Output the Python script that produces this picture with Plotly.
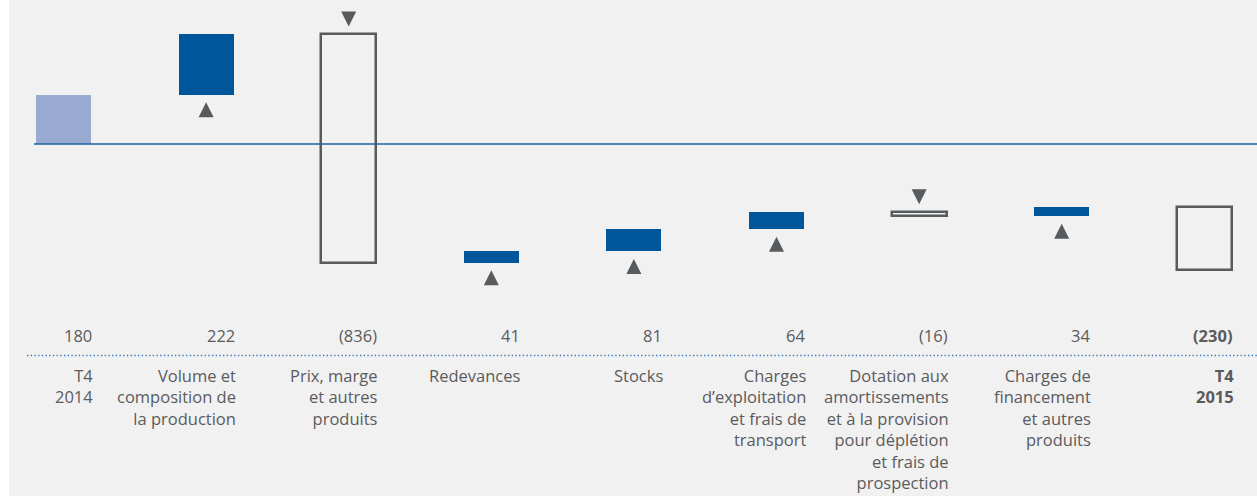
import plotly.graph_objects as go

# ---- data ----
categories = ["T4<br>2014", "Volume et<br>composition de<br>la production", "Prix, marge<br>et autres<br>produits",
              "Redevances", "Stocks", "Charges<br>d’exploitation<br>et frais de<br>transport",
              "Dotation aux<br>amortissements<br>et à la provision<br>pour déplétion<br>et frais de<br>prospection",
              "Charges de<br>financement<br>et autres<br>produits", "<b>T4<br>2015</b>"]
values = [180, 222, -836, 41, 81, 64, -16, 34, -230]
value_labels = ["180", "222", "(836)", "41", "81", "64", "(16)", "34", "<b>(230)</b>"]
kinds = ["start", "delta", "delta", "delta", "delta", "delta", "delta", "delta", "end"]

# ---- styling ----
W, H = 1257, 496
BG = "#f1f1f1"
TXT = "#5a5b5d"
DARK = "#585b5e"
BLUE = "#00569a"
LIGHT = "#99abd3"
FONT = "Open Sans"
ZERO_PX = 144.0
PX_PER_UNIT = 0.2735
ymax = ZERO_PX / PX_PER_UNIT
ymin = -(H - ZERO_PX) / PX_PER_UNIT
STEP = 142.6
x0 = -63.5 / STEP
x1 = x0 + W / STEP
BAR_W = 0.386

xs = list(range(len(categories)))
bases, heights, fills, lines = [], [], [], []
cum = 0
for k, v in zip(kinds, values):
    if k == "start":
        bases.append(0); heights.append(v); fills.append(LIGHT); lines.append(0)
        cum = v
    elif k == "end":
        bases.append(v); heights.append(v); fills.append("rgba(0,0,0,0)"); lines.append(2.5)
    else:
        bases.append(cum); heights.append(v)
        if v >= 0:
            fills.append(BLUE); lines.append(0)
        else:
            fills.append("rgba(0,0,0,0)"); lines.append(2.5)
        cum += v

fig = go.Figure()
fig.add_trace(go.Bar(
    x=xs, y=heights, base=bases, width=BAR_W,
    marker=dict(color=fills, line=dict(color=DARK, width=lines)),
    hoverinfo="skip", showlegend=False,
))

shapes = [
    dict(type="rect", xref="paper", yref="paper", x0=0, x1=9 / W, y0=0, y1=1,
         fillcolor="white", line=dict(width=0), layer="below"),
    dict(type="line", xref="paper", yref="y", x0=34 / W, x1=1, y0=0, y1=0,
         line=dict(color="#1f62a0", width=1.5)),
    dict(type="line", xref="paper", yref="paper", x0=27 / W, x1=1, y0=1 - 355.5 / H, y1=1 - 355.5 / H,
         line=dict(color="#2f74b8", width=1.6, dash="1.3px,2.4px")),
]

# direction triangles (pixel-sized, anchored on bar ends)
OFF = 15.0
HALF = 7.5
cum = 0
for i, (k, v) in enumerate(zip(kinds, values)):
    if k == "start":
        cum = v
        continue
    if k == "end":
        continue
    if v >= 0:
        anchor = cum  # bottom of bar
        cy = -OFF
        path = f"M{-HALF},{cy - HALF} L{HALF},{cy - HALF} L0,{cy + HALF} Z"
    else:
        anchor = cum  # top of bar
        cy = OFF
        path = f"M{-HALF},{cy + HALF} L{HALF},{cy + HALF} L0,{cy - HALF} Z"
    shapes.append(dict(type="path", xref="x", yref="y", xsizemode="pixel", ysizemode="pixel",
                       xanchor=i, yanchor=anchor, path=path, fillcolor=DARK, line=dict(width=0)))
    cum += v

annotations = []
for i, (cat, lab) in enumerate(zip(categories, value_labels)):
    annotations.append(dict(x=i + BAR_W / 2, y=1 - 335 / H, xref="x", yref="paper", text=lab,
                            xanchor="right", yanchor="middle", showarrow=False, align="right",
                            xshift=3, font=dict(family=FONT, size=16.5, color=TXT)))
    annotations.append(dict(x=i + BAR_W / 2, y=1 - 362 / H, xref="x", yref="paper", text=cat,
                            xanchor="right", yanchor="top", showarrow=False, align="right",
                            xshift=4, font=dict(family=FONT, size=16.5, color=TXT)))

fig.update_layout(
    width=W, height=H, margin=dict(l=0, r=0, t=0, b=0),
    paper_bgcolor=BG, plot_bgcolor=BG,
    xaxis=dict(range=[x0, x1], visible=False, fixedrange=True),
    yaxis=dict(range=[ymin, ymax], visible=False, fixedrange=True),
    shapes=shapes, annotations=annotations, bargap=0,
)
fig.write_html("out.html", config={"displayModeBar": False},
               post_script="document.body.style.margin='0';document.body.style.overflow='hidden';")
